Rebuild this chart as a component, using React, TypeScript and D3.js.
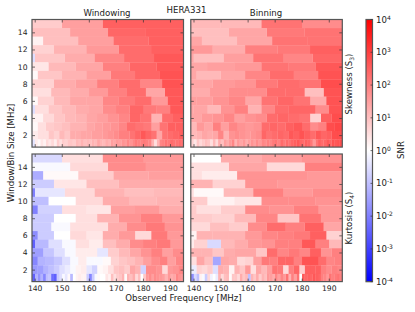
import React, { useEffect, useRef } from 'react';
import * as d3 from 'd3';

const width = 415;
const height = 312;

// window/bin sizes, one row each, top row first
const windowSizes = [15, 14, 13, 12, 11, 10, 9, 8, 7, 6, 5, 4, 3, 2, 1];
const freqTicks = [140, 150, 160, 170, 180, 190];
const sizeTicks = [2, 4, 6, 8, 10, 12, 14];
const snrExponents = [-4, -3, -2, -1, 0, 1, 2, 3, 4];

// log10(SNR) per row; cells run down from 195 MHz in steps of the window size
const skewWindowing = [
  [2.5, 2.5, 1.5, 0.8],
  [2.5, 2.4, 1.5, 1.0],
  [2.5, 2.3, 1.5, 1.0, 0.2],
  [2.5, 2.3, 1.6, 1.2, 0.7],
  [2.6, 2.3, 1.9, 1.3, 0.9, -0.5],
  [2.6, 2.4, 2.0, 1.4, 1.1, 0.4],
  [2.7, 2.4, 2.1, 1.5, 1.2, 0.9, 0.1],
  [2.7, 1.9, 2.3, 2.0, 1.5, 1.3, 0.7],
  [2.6, 1.4, 2.3, 2.0, 1.6, 1.3, 1.1, 0.5],
  [2.6, 1.6, 2.3, 2.1, 1.9, 1.4, 1.4, 1.1, 0.7, 0.1],
  [2.6, 2.0, 2.1, 2.4, 2.0, 1.8, 1.4, 1.3, 1.1, 0.9, 0.5, -0.5],
  [2.5, 2.3, 1.2, 2.2, 2.4, 1.9, 1.7, 1.5, 1.4, 1.2, 1.1, 0.9, 0.6, 0.2, -0.3],
  [2.5, 2.5, 2.2, 1.5, 2.1, 2.2, 2.3, 1.9, 1.7, 1.6, 1.5, 1.4, 1.2, 1.2, 1.0, 0.9, 0.8, 0.5, 0.1],
  [2.5, 2.4, 2.3, 2.2, 1.4, 2.2, 2.4, 2.6, 2.4, 2.2, 2.0, 2.0, 1.8, 1.7, 1.6, 1.5, 1.5, 1.4, 1.4, 1.3, 1.3, 0.9, 1.1, 0.7, 0.9, 0.5, 0.5, 0.3, -0.5],
  [2.2, 2.3, 2.2, 2.2, 2.3, 2.1, 2.2, 2.0, 1.9, 1.2, 0.5, 1.2, 1.9, 2.0, 2.1, 2.0, 2.0, 2.1, 1.9, 1.7, 1.9, 1.6, 1.7, 1.5, 1.6, 1.4, 1.5, 1.2, 1.3, 1.1, 1.2, 1.4, 1.1, 1.2, 1.0, 1.1, 1.0, 1.2, 1.0, 1.1, 0.8, 0.9, 0.9, 0.7, 0.8, 0.5, 0.8, 0.3, 0.6, 0.4, 0.6, 0.2, 0.4, 0.1, 0.3, -0.4, -1.0],
];

const skewBinning = [
  [1.8, 2.2, 1.1, 1.1],
  [2.2, 2.1, 1.4, 1.0],
  [2.2, 2.2, 1.4, 1.0, 1.4],
  [2.5, 2.1, 2.0, 1.3, 1.6],
  [2.4, 1.9, 2.2, 1.5, 1.0, 1.4],
  [2.6, 2.1, 2.2, 1.6, 1.5, 1.4],
  [2.7, 2.0, 2.3, 1.9, 1.4, 1.1, 1.4],
  [2.8, 2.2, 2.3, 2.1, 1.7, 1.6, 1.4],
  [2.7, 1.0, 2.3, 2.3, 1.8, 1.8, 1.6, 1.3],
  [2.7, 1.3, 2.2, 2.4, 2.2, 1.4, 1.9, 1.7, 1.5, 1.5],
  [2.7, 1.8, 2.4, 2.4, 2.3, 1.9, 1.2, 2.0, 1.7, 1.1, 1.4, 1.4],
  [2.8, 2.5, 0.7, 2.2, 2.3, 2.4, 2.3, 1.8, 1.7, 1.5, 1.9, 1.7, 1.6, 1.4, 1.0],
  [2.9, 2.8, 2.0, 1.8, 2.3, 2.6, 2.5, 2.3, 2.4, 2.3, 1.7, 1.6, 1.7, 1.9, 1.5, 2.0, 1.4, 1.6, 1.1],
  [2.8, 2.8, 2.5, 2.4, 2.6, 2.3, 2.5, 2.7, 2.5, 2.6, 2.3, 2.4, 2.3, 2.2, 2.4, 1.8, 1.7, 1.6, 1.7, 1.8, 1.7, 1.2, 1.9, 1.4, 1.3, 1.4, 1.2, 1.1, 0.9],
  [2.8, 2.7, 2.6, 2.7, 2.4, 2.6, 2.4, 2.3, 2.5, 2.2, 1.6, 2.1, 2.4, 2.5, 2.3, 2.4, 2.6, 2.5, 2.4, 2.2, 2.3, 2.1, 2.3, 2.0, 2.2, 2.1, 1.9, 2.0, 1.8, 1.9, 1.6, 1.8, 1.5, 1.7, 1.5, 1.3, 1.6, 1.4, 1.6, 1.2, 1.9, 1.6, 1.3, 1.5, 1.0, 1.3, 0.6, 1.1, 0.5, 0.9, 1.0, 0.8, 0.6, 0.9, 0.4, 0.7, 0.6],
];

const kurtWindowing = [
  [1.6, 1.8, 0.5, -0.6],
  [1.6, 1.8, 0.6, -0.1],
  [1.5, 1.4, 0.8, 0.1, -1.3],
  [1.3, 1.3, 1.0, 0.4, -0.8],
  [1.1, 1.0, 1.2, 0.6, -0.4, -2.0],
  [1.2, 1.1, 1.3, 0.6, 0.0, -1.0],
  [1.3, 1.6, 1.5, 0.4, 0.5, -0.7, -2.0],
  [1.6, 2.0, 1.7, 1.2, 0.5, 0.0, -0.8],
  [1.7, 2.1, 1.8, 1.3, 0.5, 0.5, -0.1, -0.8],
  [1.6, 2.1, 0.6, 1.6, 1.3, 0.4, 0.6, 0.0, -0.8, -1.8],
  [1.6, 2.1, 2.0, 1.8, 1.3, 1.0, 0.3, 0.5, -0.1, -0.5, -1.1, -2.5],
  [1.8, 1.5, 2.0, 1.7, 1.4, 1.1, 0.8, -0.4, 0.3, 0.3, -0.1, -0.5, -0.9, -1.5, -2.0],
  [1.9, 1.5, 2.0, 1.8, 1.5, 1.2, 1.0, 0.9, 0.7, 0.1, -0.1, -0.1, 0.3, -0.1, -0.5, -0.9, -1.1, -1.2, -1.9],
  [1.9, 1.7, 1.6, 0.6, 1.7, 1.8, 1.8, -0.7, 1.2, 1.4, 0.8, 1.0, 0.9, 0.5, 0.2, 0.1, -0.7, -0.4, 0.3, 0.2, -0.1, -0.3, -0.5, -0.8, -1.0, -1.2, -1.5, -1.6, -2.0],
  [1.6, 1.7, 1.9, 1.4, 1.3, 1.6, 1.2, 1.5, 1.6, 1.7, 1.8, 1.5, 1.8, 1.6, 0.9, 0.0, 1.0, 0.6, 1.3, 1.0, 1.2, 0.1, 1.2, 0.9, 0.8, 0.5, 1.0, 0.2, 0.4, 0.0, 0.0, 0.1, -0.1, -0.8, -1.9, -0.8, 0.2, 0.2, 0.3, 0.2, 0.0, -1.1, 0.1, -0.4, -0.1, -0.5, -0.8, -2.5, -2.3, -0.9, -1.0, -1.9, -1.2, -1.7, -1.2, -2.5, -1.5],
];

const kurtBinning = [
  [1.7, 1.5, 1.3, 0.0],
  [2.0, 0.6, 1.4, 0.5],
  [1.6, 1.7, 1.7, 0.3, 0.5],
  [1.6, 1.6, 1.7, 0.7, 1.2],
  [1.8, 1.6, 2.0, 1.1, 0.1, 0.5],
  [1.7, 1.8, 1.8, 0.4, 0.2, 0.8],
  [1.6, 2.0, 1.7, 1.8, 0.8, 0.5, 0.8],
  [1.6, 2.2, 0.9, 1.9, 1.1, 0.7, 0.8],
  [1.4, 2.5, 2.0, 2.3, 1.8, 0.8, 1.0, 0.6],
  [0.7, 2.5, 2.1, 2.0, 1.9, 1.6, 1.2, 1.2, 1.2, 0.2],
  [1.1, 2.0, 2.6, 2.0, 2.0, 1.7, 1.6, 1.3, 1.1, -0.6, 0.7, 0.3],
  [2.0, 1.7, 2.5, 1.9, 2.1, 1.9, 2.3, 0.9, 1.4, 1.4, 1.3, 0.9, 1.2, 1.2, -0.2],
  [2.0, 1.9, 2.3, 2.7, 2.7, 2.0, 2.4, 2.4, 2.0, 2.1, 1.5, 0.7, 0.6, 1.3, 1.4, -1.4, 1.0, 1.4, 0.5],
  [1.9, 2.0, 1.8, 2.0, 2.5, 2.5, 2.5, 0.8, 2.4, 2.0, 0.6, 2.1, 2.2, 1.5, 1.1, 1.4, 0.5, 1.6, 0.9, 1.2, 0.2, 1.2, 1.3, -0.5, 0.8, 0.6, 0.7, -0.3, -0.1],
  [2.0, 2.2, 2.1, 2.0, 2.2, 1.6, 1.9, 2.0, 2.4, 2.5, 2.6, 2.4, 2.5, 2.4, 2.6, 0.0, 2.2, 1.5, 2.0, 1.2, 2.2, 1.6, 1.9, 1.5, 1.9, 1.3, 1.5, 1.6, 1.0, 1.2, 0.8, 1.3, 0.9, 1.2, -1.0, 1.1, 0.9, 1.3, 0.6, 0.9, 0.9, 0.1, 1.1, 1.0, 0.6, 1.2, -0.3, 0.0, -0.2, 0.6, -0.8, -0.1, 0.2, -1.0, -0.6, -1.8, -1.0],
];

const topFreq = 195;
const ink = '#222';
const frameColor = '#555';
const fontFamily = '"DejaVu Sans"';
const tickFont = 7.6;
const labelFont = 8.6;

const colorScale = d3.scaleLinear<string>().domain([-4, 0, 4]).range(['#0000ff', '#ffffff', '#ff0000']);

type Panel = { data: number[][]; left: number; top: number; showX: boolean; showY: boolean };

const panelW = 151.5;
const panelH = 127.6;
const panels: Panel[] = [
  { data: skewWindowing, left: 32, top: 19.5, showX: false, showY: true },
  { data: skewBinning, left: 190.8, top: 19.5, showX: false, showY: false },
  { data: kurtWindowing, left: 32, top: 154, showX: true, showY: true },
  { data: kurtBinning, left: 190.8, top: 154, showX: true, showY: false },
];

function drawPanel(svg: d3.Selection<SVGSVGElement, unknown, null, undefined>, p: Panel, idx: number) {
  const x = d3.scaleLinear().domain([139, topFreq]).range([0, panelW]);
  const y = d3.scaleLinear().domain([0.6, 15.5]).range([panelH, 0]);
  const g = svg.append('g').attr('transform', `translate(${p.left},${p.top})`);

  const clipId = `clip-${idx}`;
  g.append('clipPath').attr('id', clipId).append('rect').attr('width', panelW).attr('height', panelH);

  const cells = p.data.flatMap((row, i) =>
    row.map((v, k) => ({ size: windowSizes[i], k, v })),
  );
  // the reference is a soft downscaled image, so the cells get a light blur
  g.append('g')
    .attr('clip-path', `url(#${clipId})`)
    .append('g')
    .attr('filter', 'url(#soft)')
    .selectAll('rect')
    .data(cells)
    .enter()
    .append('rect')
    .attr('x', d => x(topFreq - (d.k + 1) * d.size))
    .attr('width', d => x(topFreq - d.k * d.size) - x(topFreq - (d.k + 1) * d.size) + 0.3)
    .attr('y', d => y(d.size + 0.5))
    .attr('height', d => y(d.size - 0.5) - y(d.size + 0.5) + 0.3)
    .attr('fill', d => colorScale(d.v));

  const tickLen = -3;
  const axes: [d3.Axis<d3.NumberValue>, string, boolean][] = [
    [d3.axisLeft(y).tickValues(sizeTicks), '', p.showY],
    [d3.axisRight(y).tickValues(sizeTicks), `translate(${panelW},0)`, false],
    [d3.axisTop(x).tickValues(freqTicks), '', false],
    [d3.axisBottom(x).tickValues(freqTicks), `translate(0,${panelH})`, p.showX],
  ];
  axes.forEach(([axis, transform, labelled]) => {
    axis.tickSizeInner(tickLen).tickSizeOuter(0).tickPadding(4.5);
    if (!labelled) axis.tickFormat(() => '');
    const a = g.append('g').attr('transform', transform).call(axis);
    a.select('.domain').remove();
    a.selectAll('line').attr('stroke', '#333').attr('stroke-width', 0.7);
    a.selectAll('text').attr('fill', ink).attr('font-size', tickFont).attr('font-family', fontFamily);
  });

  g.append('rect')
    .attr('width', panelW)
    .attr('height', panelH)
    .attr('fill', 'none')
    .attr('stroke', frameColor)
    .attr('stroke-width', 1.2);
}

function drawColorbar(svg: d3.Selection<SVGSVGElement, unknown, null, undefined>) {
  const left = 366;
  const top = 19.5;
  const w = 6.5;
  const h = 262.2;
  const y = d3.scaleLinear().domain([-4, 4]).range([h, 0]);
  const grad = svg.select('defs').append('linearGradient').attr('id', 'snr-grad').attr('x1', 0).attr('y1', 1).attr('x2', 0).attr('y2', 0);
  grad.append('stop').attr('offset', '0%').attr('stop-color', colorScale(-4));
  grad.append('stop').attr('offset', '50%').attr('stop-color', colorScale(0));
  grad.append('stop').attr('offset', '100%').attr('stop-color', colorScale(4));

  const g = svg.append('g').attr('transform', `translate(${left},${top})`);
  g.append('rect').attr('width', w).attr('height', h).attr('fill', 'url(#snr-grad)').attr('stroke', frameColor).attr('stroke-width', 1.2);

  const ticks = g.selectAll('g.tick').data(snrExponents).enter().append('g').attr('class', 'tick').attr('transform', d => `translate(0,${y(d)})`);
  ticks.append('line').attr('x1', w - 2).attr('x2', w).attr('stroke', '#333').attr('stroke-width', 0.7);
  const label = ticks.append('text').attr('x', w + 3.5).attr('y', 3).attr('fill', ink).attr('font-size', labelFont).attr('font-family', fontFamily);
  label.append('tspan').text('10');
  label.append('tspan').attr('dy', -3).attr('font-size', 6).text(d => `${d}`);
}

function addText(
  svg: d3.Selection<SVGSVGElement, unknown, null, undefined>,
  x: number,
  y: number,
  text: string,
  rotate = false,
  sub?: string,
) {
  const t = svg.append('text')
    .attr('transform', `translate(${x},${y})${rotate ? ' rotate(-90)' : ''}`)
    .attr('text-anchor', 'middle')
    .attr('fill', ink)
    .attr('font-size', labelFont)
    .attr('font-family', fontFamily);
  t.append('tspan').text(text);
  if (sub) {
    t.append('tspan').attr('dy', 1.8).attr('font-size', 6).text(sub);
    t.append('tspan').attr('dy', -1.8).text(')');
  }
}

export default function App() {
  const ref = useRef<SVGSVGElement>(null);
  useEffect(() => {
    const svg = d3.select(ref.current!);
    svg.selectAll('*').remove();
    const defs = svg.append('defs');
    defs.append('filter').attr('id', 'soft').append('feGaussianBlur').attr('stdDeviation', 0.45);
    panels.forEach((p, i) => drawPanel(svg, p, i));
    drawColorbar(svg);
    addText(svg, 186.5, 12.5, 'HERA331');
    addText(svg, 107, 16, 'Windowing');
    addText(svg, 266, 16, 'Binning');
    addText(svg, 183.5, 301, 'Observed Frequency [MHz]');
    addText(svg, 14, 153, 'Window/Bin Size [MHz]', true);
    addText(svg, 352, 84, 'Skewness (S', true, '3');
    addText(svg, 352, 218, 'Kurtosis (S', true, '4');
    addText(svg, 404, 150, 'SNR', true);
  }, []);
  return <svg ref={ref} width={width} height={height} style={{ position: 'absolute', left: 0, top: 0, background: '#fff' }} />;
}
